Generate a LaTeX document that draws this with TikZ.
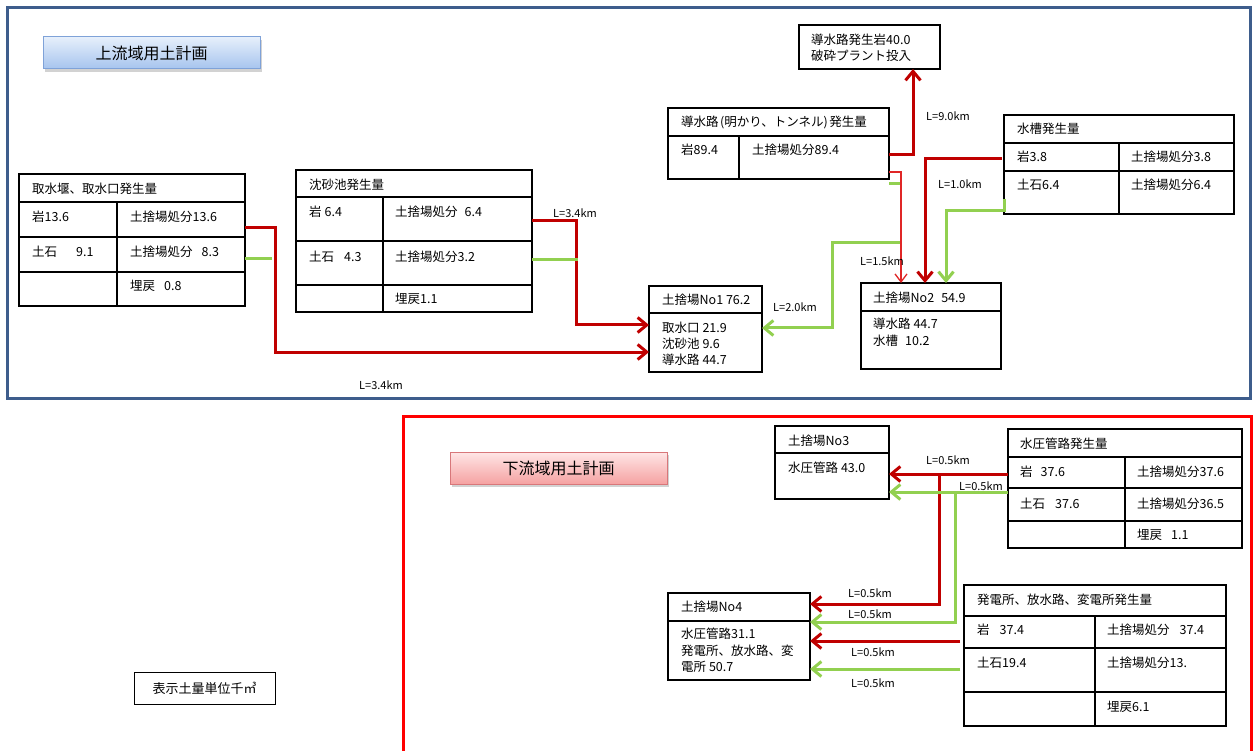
\documentclass[tikz,border=0pt]{standalone}
\usepackage{fontspec}
\setmainfont{Noto Sans CJK JP}
\usetikzlibrary{arrows.meta,shadows}
\definecolor{lred}{HTML}{C00000}
\definecolor{lgreen}{HTML}{92D050}
\definecolor{fblue}{HTML}{3E5D8C}
\definecolor{fred}{HTML}{FF0000}
\definecolor{thred}{HTML}{E02626}
\definecolor{tbborder}{HTML}{7FA2D8}
\definecolor{tbtop}{HTML}{E6EFFB}
\definecolor{tbbot}{HTML}{A6C4EE}
\definecolor{tpborder}{HTML}{D8777A}
\definecolor{tptop}{HTML}{FFE6E6}
\definecolor{tpbot}{HTML}{F5A2A2}
\newcommand\bodyfont{\fontsize{12.5}{15}\selectfont}
\newcommand\lblfont{\fontsize{11}{13}\selectfont}
\newcommand\ttlfont{\fontsize{16}{19}\selectfont}
\tikzset{
 box/.style={draw=black,line width=1.5pt,inner sep=0pt,outer sep=0pt,anchor=north west},
 grid/.style={draw=black,line width=1.5pt},
 tx/.style={anchor=west,inner sep=0pt,font=\bodyfont},
 lb/.style={anchor=center,inner sep=0pt,font=\lblfont},
 redl/.style={draw=lred,line width=3pt},
 greenl/.style={draw=lgreen,line width=3pt},
 thinred/.style={draw=thred,line width=1.3pt},
 arrowend/.style={-{Straight Barb[length=9pt,width=15pt]}},
 arrowthin/.style={-{Straight Barb[length=8pt,width=12pt]}},
 ttlbox/.style={anchor=north west,inner sep=0pt,outer sep=0pt,line width=1pt,font=\ttlfont,
   minimum width=217pt,minimum height=32pt,
   drop shadow={shadow xshift=1.5pt,shadow yshift=-3pt,opacity=0.35}},
}
\begin{document}
\begin{tikzpicture}[x=1pt,y=-1pt]
\path[use as bounding box] (0,0) rectangle (1253,751);
\clip (0,0) rectangle (1253,751);
\fill[white] (0,0) rectangle (1253,751);

% ===== upper frame =====
\draw[fblue,line width=3pt] (7,8) rectangle (1250,398);
\node[ttlbox,draw=tbborder,top color=tbtop,bottom color=tbbot] (ttl1) at (43,37) {上流域用土計画};

% table 取水堰
\node[box,minimum width=226pt,minimum height=132pt] (t1) at (19,174) {};
\draw[grid] (19,202) -- (245,202) (19,237) -- (245,237) (19,272) -- (245,272) (117,202) -- (117,306);
\node[tx] (t1h) at (32,189) {取水堰、取水口発生量};
\node[tx] (t1a) at (32,217) {岩13.6};
\node[tx] (t1b) at (130,217) {土捨場処分13.6};
\node[tx] (t1c) at (32,252) {土石\hspace{19pt}9.1};
\node[tx] (t1d) at (130,252) {土捨場処分\hspace{9pt}8.3};
\node[tx] (t1e) at (130,286) {埋戻\hspace{9pt}0.8};

% table 沈砂池
\node[box,minimum width=236pt,minimum height=142pt] (t2) at (296,170) {};
\draw[grid] (296,197) -- (532,197) (296,241) -- (532,241) (296,285) -- (532,285) (383,197) -- (383,312);
\node[tx] (t2h) at (309,185) {沈砂池発生量};
\node[tx] (t2a) at (309,212) {岩\hspace{3pt}6.4};
\node[tx] (t2b) at (395,212) {土捨場処分\hspace{7pt}6.4};
\node[tx] (t2c) at (309,257) {土石\hspace{10pt}4.3};
\node[tx] (t2d) at (395,257) {土捨場処分3.2};
\node[tx] (t2e) at (395,299) {埋戻1.1};

% 土捨場No1
\node[box,minimum width=113pt,minimum height=86pt] (no1) at (649,286) {};
\draw[grid] (649,313) -- (762,313);
\node[tx] (no1h) at (662,300) {土捨場No1 76.2};
\node[tx] (no1a) at (662,328) {取水口 21.9};
\node[tx] (no1b) at (662,344) {沈砂池 9.6};
\node[tx] (no1c) at (662,360) {導水路 44.7};

% 導水路発生岩 box
\node[box,minimum width=141pt,minimum height=44pt] (rock) at (799,25) {};
\node[tx] (rocka) at (811,40) {導水路発生岩40.0};
\node[tx] (rockb) at (811,56) {破砕プラント投入};

% table 導水路
\node[box,minimum width=221pt,minimum height=71pt] (t3) at (668,108) {};
\draw[grid] (668,136) -- (889,136) (739,136) -- (739,179);
\node[tx] (t3h) at (681,122) {導水路\hspace{1.5pt}(明かり、トンネル)\hspace{1.5pt}発生量};
\node[tx] (t3a) at (681,150) {岩89.4};
\node[tx] (t3b) at (752,150) {土捨場処分89.4};

% table 水槽
\node[box,minimum width=230pt,minimum height=99pt] (t4) at (1004,115) {};
\draw[grid] (1004,143) -- (1234,143) (1004,171) -- (1234,171) (1119,143) -- (1119,214);
\node[tx] (t4h) at (1017,129) {水槽発生量};
\node[tx] (t4a) at (1017,157) {岩3.8};
\node[tx] (t4b) at (1131,157) {土捨場処分3.8};
\node[tx] (t4c) at (1017,185) {土石6.4};
\node[tx] (t4d) at (1131,185) {土捨場処分6.4};

% 土捨場No2
\node[box,minimum width=140pt,minimum height=86pt] (no2) at (861,283) {};
\draw[grid] (861,311) -- (1001,311);
\node[tx] (no2h) at (873,298) {土捨場No2\hspace{7pt}54.9};
\node[tx] (no2a) at (873,324) {導水路 44.7};
\node[tx] (no2b) at (873,341) {水槽\hspace{7pt}10.2};

% upper connectors
\coordinate (t1r) at (245,228); \coordinate (n1a) at (649,352);
\draw[redl,arrowend] (t1r) -- ++(30,0) |- (n1a);
\coordinate (t1g) at (245,259); \coordinate (t1ge) at (272,259);
\draw[greenl] (t1g) -- (t1ge);
\coordinate (t2r) at (532,221); \coordinate (n1b) at (649,325);
\draw[redl,arrowend] (t2r) -- ++(44,0) |- (n1b);
\coordinate (t2g) at (532,260); \coordinate (t2ge) at (578,260);
\draw[greenl] (t2g) -- (t2ge);
\coordinate (t3g) at (889,184); \coordinate (t3gs) at (901,184);
\draw[greenl] (t3g) -- (t3gs);
\coordinate (t3gk) at (901,243); \coordinate (n1c) at (762,328);
\draw[greenl,arrowend] (t3gk) -- (832,243) -- (832,328) -- (n1c);
\coordinate (t3t) at (889,172); \coordinate (n2a) at (901,283);
\draw[thinred,arrowthin] (t3t) -| (n2a);
\coordinate (t3u) at (889,155); \coordinate (rockin) at (913,69);
\draw[redl,arrowend] (t3u) -| (rockin);
\coordinate (t4r) at (1002,159); \coordinate (n2b) at (925,283);
\draw[redl,arrowend] (t4r) -| (n2b);
\coordinate (t4g) at (1004,199); \coordinate (n2c) at (946,283);
\draw[greenl,arrowend] (t4g) -- (1004,211) -| (n2c);

\node[lb] (l1) at (381,385) {L=3.4km};
\node[lb] (l2) at (575,213) {L=3.4km};
\node[lb] (l3) at (948,116) {L=9.0km};
\node[lb] (l4) at (960,184) {L=1.0km};
\node[lb] (l5) at (882,261) {L=1.5km};
\node[lb] (l6) at (795,307) {L=2.0km};

% ===== lower frame =====
\draw[fred,line width=3pt] (403,760) -- (403,416) -- (1251,416) -- (1251,760);
\node[ttlbox,draw=tpborder,top color=tptop,bottom color=tpbot] (ttl2) at (450,452) {下流域用土計画};

\node[box,line width=1pt,minimum width=141pt,minimum height=32pt,font=\fontsize{13}{15}\selectfont] (unit) at (134,672) {表示土量単位千㎥};

% 土捨場No3
\node[box,minimum width=114pt,minimum height=73pt] (no3) at (775,426) {};
\draw[grid] (775,453) -- (889,453);
\node[tx] (no3h) at (788,441) {土捨場No3};
\node[tx] (no3a) at (788,468) {水圧管路 43.0};

% table 水圧管路
\node[box,minimum width=234pt,minimum height=119pt] (t5) at (1008,429) {};
\draw[grid] (1008,457) -- (1242,457) (1008,488) -- (1242,488) (1008,521) -- (1242,521) (1125,457) -- (1125,548);
\node[tx] (t5h) at (1020,444) {水圧管路発生量};
\node[tx] (t5a) at (1020,472) {岩\hspace{8pt}37.6};
\node[tx] (t5b) at (1137,472) {土捨場処分37.6};
\node[tx] (t5c) at (1020,504) {土石\hspace{10pt}37.6};
\node[tx] (t5d) at (1137,504) {土捨場処分36.5};
\node[tx] (t5e) at (1137,535) {埋戻\hspace{9pt}1.1};

% table 発電所
\node[box,minimum width=262pt,minimum height=141pt] (t6) at (964,585) {};
\draw[grid] (964,616) -- (1226,616) (964,648) -- (1226,648) (964,692) -- (1226,692) (1095,616) -- (1095,726);
\node[tx] (t6h) at (977,600) {発電所、放水路、変電所発生量};
\node[tx] (t6a) at (977,630) {岩\hspace{10pt}37.4};
\node[tx] (t6b) at (1107,630) {土捨場処分\hspace{10pt}37.4};
\node[tx] (t6c) at (977,663) {土石19.4};
\node[tx] (t6d) at (1107,663) {土捨場処分13.};
\node[tx] (t6e) at (1107,707) {埋戻6.1};

% 土捨場No4
\node[box,minimum width=142pt,minimum height=87pt] (no4) at (668,593) {};
\draw[grid] (668,621) -- (810,621);
\node[tx] (no4h) at (681,607) {土捨場No4};
\node[tx] (no4a) at (681,634) {水圧管路31.1};
\node[tx] (no4b) at (681,651) {発電所、放水路、変};
\node[tx] (no4c) at (681,667) {電所 50.7};

% lower connectors
\coordinate (t5r) at (1008,474); \coordinate (n3a) at (889,474);
\draw[redl,arrowend] (t5r) -- (n3a);
\coordinate (t5rb) at (939,474); \coordinate (n4a) at (810,604);
\draw[redl,arrowend] (t5rb) |- (n4a);
\coordinate (t5g) at (1008,492); \coordinate (n3b) at (889,492);
\draw[greenl,arrowend] (t5g) -- (n3b);
\coordinate (t5gb) at (955,492); \coordinate (n4b) at (810,622);
\draw[greenl,arrowend] (t5gb) |- (n4b);
\coordinate (t6r) at (960,641); \coordinate (n4c) at (810,641);
\draw[redl,arrowend] (t6r) -- (n4c);
\coordinate (t6g) at (960,669); \coordinate (n4d) at (810,669);
\draw[greenl,arrowend] (t6g) -- (n4d);

\node[lb] (l7) at (948,460) {L=0.5km};
\node[lb] (l8) at (981,486) {L=0.5km};
\node[lb] (l9) at (870,593) {L=0.5km};
\node[lb] (l10) at (870,614) {L=0.5km};
\node[lb] (l11) at (873,652) {L=0.5km};
\node[lb] (l12) at (873,683) {L=0.5km};
\end{tikzpicture}
\end{document}
